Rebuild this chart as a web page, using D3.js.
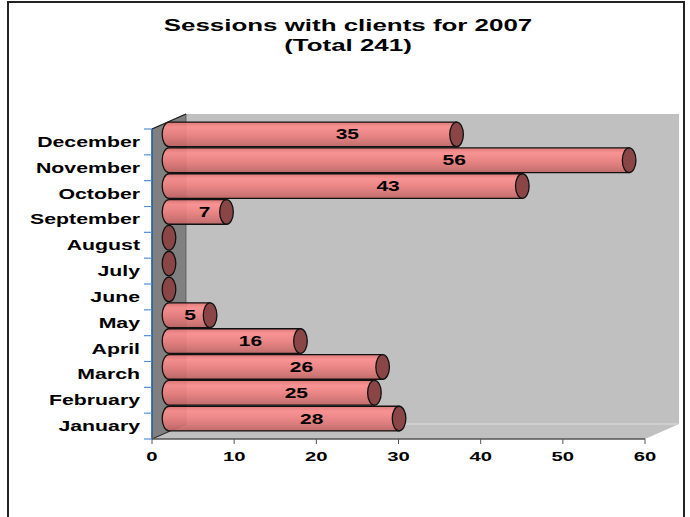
<!DOCTYPE html>
<html>
<head>
<meta charset="utf-8">
<script src="https://cdn.jsdelivr.net/npm/d3@7"></script>
<style>
  body { margin: 0; background: #fff; }
  text { font-family: "Liberation Sans", Arial, sans-serif; font-weight: bold; fill: #000; }
</style>
</head>
<body>
<svg id="chart" width="690" height="517"></svg>
<script>
var months = ["January", "February", "March", "April", "May", "June",
              "July", "August", "September", "October", "November", "December"];
var sessions = [28, 25, 26, 16, 5, 0, 0, 0, 7, 43, 56, 35];
var xTicks = [0, 10, 20, 30, 40, 50, 60];
var titleLines = ["Sessions with clients for 2007", "(Total 241)"];

var svg = d3.select("#chart");
var depth = { dx: 34, dy: -15 };

var x = d3.scaleLinear().domain([0, 60]).range([152, 645]);
var y = d3.scaleBand().domain(months.slice().reverse()).range([129, 439]).padding(0);

// outer frame
svg.append("rect")
  .attr("x", 8).attr("y", 2).attr("width", 676).attr("height", 530)
  .attr("fill", "none").attr("stroke", "#222").attr("stroke-width", 2);

// title (text is rendered wide in the original, so stretch horizontally)
titleLines.forEach(function(t, i) {
  svg.append("text")
    .attr("transform", "translate(348," + (31 + i * 20) + ") scale(1.62,1)")
    .attr("text-anchor", "middle")
    .style("font-size", "16px")
    .text(t);
});

var x0 = x(0), x1 = x(60), yTop = y.range()[0], yBot = y.range()[1];

// back wall + floor
svg.append("path")
  .attr("d", "M" + (x0 + depth.dx) + "," + (yTop + depth.dy) +
             "L" + (x1 + depth.dx) + "," + (yTop + depth.dy) +
             "L" + (x1 + depth.dx) + "," + (yBot + depth.dy) +
             "L" + x1 + "," + yBot +
             "L" + x0 + "," + yBot +
             "L" + (x0 + depth.dx) + "," + (yBot + depth.dy) + "Z")
  .attr("fill", "#c0c0c0");

// floor/back edge highlight
svg.append("line")
  .attr("x1", x0 + depth.dx).attr("x2", x1 + depth.dx)
  .attr("y1", yBot + depth.dy).attr("y2", yBot + depth.dy)
  .attr("stroke", "#dedede").attr("stroke-width", 1);

// left side wall
svg.append("path")
  .attr("d", "M" + x0 + "," + yTop + "L" + (x0 + depth.dx) + "," + (yTop + depth.dy) +
             "L" + (x0 + depth.dx) + "," + (yBot + depth.dy) + "L" + x0 + "," + yBot + "Z")
  .attr("fill", "#808080").attr("stroke", "#555").attr("stroke-width", 0.8);
svg.append("line")
  .attr("x1", x0).attr("y1", yTop).attr("x2", x0 + depth.dx).attr("y2", yTop + depth.dy)
  .attr("stroke", "#222").attr("stroke-width", 1.2);
svg.append("line")
  .attr("x1", x0).attr("y1", yBot).attr("x2", x0 + depth.dx).attr("y2", yBot + depth.dy)
  .attr("stroke", "#333").attr("stroke-width", 1);

// gradient for cylinder bodies
var defs = svg.append("defs");
var grad = defs.append("linearGradient").attr("id", "cyl")
  .attr("x1", 0).attr("y1", 0).attr("x2", 0).attr("y2", 1);
[[0, "#e27474"], [0.2, "#ff8e8e"], [0.35, "#f88888"], [0.55, "#ec7d7d"],
 [0.8, "#d47070"], [1, "#bf6262"]].forEach(function(s) {
  grad.append("stop").attr("offset", s[0]).attr("stop-color", s[1]);
});

// bars (cylinders) drawn at mid depth
var bars = svg.append("g");
var months2 = months.map(function(m, i) { return { m: m, v: sessions[i] }; });
var rx = 6.8;
months2.slice().reverse().forEach(function(d) {
  var top = y(d.m) + depth.dy / 2 + 0.6;
  var h = y.bandwidth() - 1.2;
  var ry = h / 2;
  var bx0 = x(0) + depth.dx / 2;
  var bx1 = x(d.v) + depth.dx / 2;
  var g = bars.append("g");
  if (d.v > 0) {
    g.append("path")
      .attr("d", "M" + bx0 + "," + top +
                 "A" + rx + "," + ry + " 0 0 0 " + bx0 + "," + (top + h) +
                 "L" + bx1 + "," + (top + h) + "L" + bx1 + "," + top + "Z")
      .attr("fill", "url(#cyl)").attr("fill-opacity", 0.9)
      .attr("stroke", "#111").attr("stroke-width", 1.3);
  }
  g.append("ellipse")
    .attr("cx", bx1).attr("cy", top + ry).attr("rx", rx).attr("ry", ry)
    .attr("fill", "#8a4646").attr("stroke", "#111").attr("stroke-width", 1.3);
  if (d.v > 0) {
    // value label sits a bit past the middle, but clear of the end cap
    var lx = Math.min(bx0 + (bx1 - bx0) * 0.62, bx1 - 20);
    g.append("text")
      .attr("transform", "translate(" + lx + "," + (top + ry + 5) + ") scale(1.5,1)")
      .attr("text-anchor", "middle")
      .style("font-size", "14px")
      .text(d.v);
  }
});

// y axis
svg.append("line")
  .attr("x1", x0).attr("x2", x0).attr("y1", yTop).attr("y2", yBot)
  .attr("stroke", "#2a5fa8").attr("stroke-width", 1.5);
var bounds = months.map(function(m) { return y(m); }).concat([yBot]);
svg.append("g").selectAll("line").data(bounds).enter().append("line")
  .attr("x1", x0 - 8).attr("x2", x0).attr("y1", function(d) { return d; }).attr("y2", function(d) { return d; })
  .attr("stroke", "#4f8fd6").attr("stroke-width", 1.2);
svg.append("g").selectAll("text").data(months).enter().append("text")
  .attr("transform", function(m) { return "translate(140," + (y(m) + y.bandwidth() / 2 + 5) + ") scale(1.52,1)"; })
  .attr("text-anchor", "end")
  .style("font-size", "14px")
  .text(function(m) { return m; });

// x axis
svg.append("line")
  .attr("x1", x0).attr("x2", x1).attr("y1", yBot).attr("y2", yBot)
  .attr("stroke", "#555").attr("stroke-width", 1.5);
svg.append("g").selectAll("line").data(xTicks).enter().append("line")
  .attr("x1", function(d) { return x(d); }).attr("x2", function(d) { return x(d); })
  .attr("y1", yBot).attr("y2", yBot + 5)
  .attr("stroke", "#555").attr("stroke-width", 1);
svg.append("g").selectAll("text").data(xTicks).enter().append("text")
  .attr("transform", function(d) { return "translate(" + x(d) + ",461) scale(1.5,1)"; })
  .attr("text-anchor", "middle")
  .style("font-size", "13.5px")
  .text(function(d) { return d; });
</script>
</body>
</html>
